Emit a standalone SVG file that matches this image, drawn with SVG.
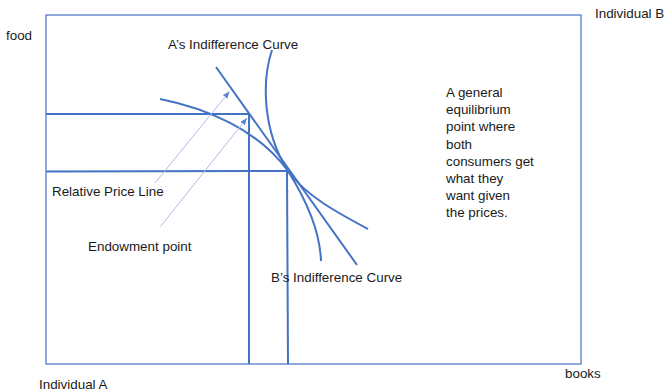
<svg xmlns="http://www.w3.org/2000/svg" width="670" height="392" viewBox="0 0 670 392">
<defs>
<style>
.t{font-family:"Liberation Sans",Arial,sans-serif;font-size:13.4px;fill:#1a1a1a}
.frame{fill:none;stroke:#4472C4;stroke-width:1.2}
.ln{fill:none;stroke:#4472C4;stroke-width:2;stroke-linecap:butt}
.ptr{fill:none;stroke:#A9BFE6;stroke-width:1}
</style>
<marker id="ah" viewBox="0 0 10 10" refX="10" refY="5" markerWidth="7" markerHeight="7" markerUnits="userSpaceOnUse" orient="auto">
<path d="M0,1 L10,5 L0,9 z" fill="#5B82CC"/>
</marker>
</defs>
<rect width="670" height="392" fill="#ffffff"/>
<g id="frame"><rect class="frame" x="46" y="15" width="535" height="349"/></g>
<g id="connectors">
<line class="ln" x1="46" y1="114" x2="249" y2="114"/>
<line class="ln" x1="249" y1="114" x2="249" y2="364"/>
<line class="ln" x1="46" y1="171.5" x2="287" y2="171"/>
<line class="ln" x1="287" y1="171" x2="288" y2="364"/>
<line class="ln" x1="216" y1="67" x2="357" y2="265"/>
<path class="ln" d="M160,99 C205,108 258,129 288,171 C306,196 338,213 368,229"/>
<path class="ln" d="M272,50 C262,80 262,130 288,171 C305,198 320,230 321,261"/>
<line class="ptr" x1="155" y1="183" x2="229.5" y2="91.5" marker-end="url(#ah)"/>
<line class="ptr" x1="160.5" y1="226.5" x2="247" y2="118" marker-end="url(#ah)"/>
</g>
<g id="labels">
<text class="t" x="6" y="40">food</text>
<text class="t" x="595" y="18">Individual B</text>
<text class="t" x="168" y="49">A’s Indifference Curve</text>
<text class="t" x="52" y="196">Relative Price Line</text>
<text class="t" x="88" y="251">Endowment point</text>
<text class="t" x="271" y="282">B’s Indifference Curve</text>
<text class="t" x="565" y="378">books</text>
<text class="t" x="39" y="389">Individual A</text>
</g>
<g id="note">
<text class="t" x="446" y="97">A general</text>
<text class="t" x="446" y="114.2">equilibrium</text>
<text class="t" x="446" y="131.4">point where</text>
<text class="t" x="446" y="148.6">both</text>
<text class="t" x="446" y="165.8">consumers get</text>
<text class="t" x="446" y="183">what they</text>
<text class="t" x="446" y="200.2">want given</text>
<text class="t" x="446" y="217.4">the prices.</text>
</g>
</svg>
